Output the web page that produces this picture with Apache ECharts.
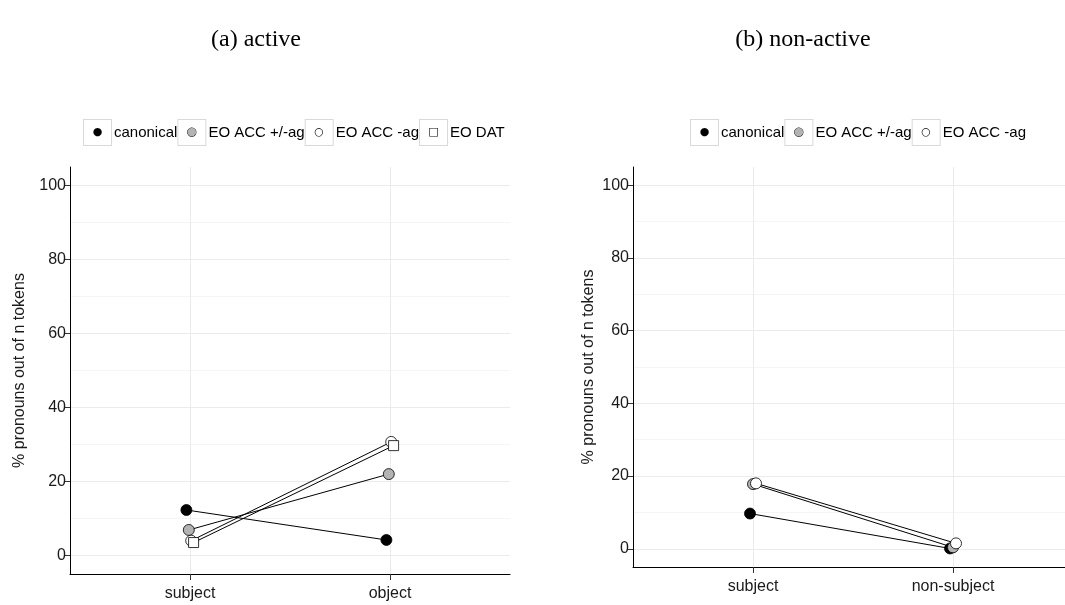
<!DOCTYPE html>
<html>
<head>
<meta charset="utf-8">
<script src="https://cdn.jsdelivr.net/npm/echarts@6/dist/echarts.min.js"></script>
<style>
  html, body { margin: 0; padding: 0; background: #fff; }
  #chart { width: 1065px; height: 605px; }
</style>
</head>
<body>
<div id="chart"></div>
<script>
// panel (a) active
const categoriesA = ['subject', 'object']
const canonicalA = [12.3, 4.2]
const accBothA = [6.9, 22.0]
const accNoAgA = [4.0, 30.7]
const datA = [3.5, 29.7]

// panel (b) non-active
const categoriesB = ['subject', 'non-subject']
const canonicalB = [9.7, 0.1]
const accBothB = [17.8, 0.4]
const accNoAgB = [18.0, 1.5]

const yTicks = [0, 20, 40, 60, 80, 100]
const yMinor = [10, 30, 50, 70, 90]

const seriesNames = ['canonical', 'EO ACC +/-ag', 'EO ACC -ag', 'EO DAT']
const boxKey = { 'canonical': 'b0', 'EO ACC +/-ag': 'b1', 'EO ACC -ag': 'b2', 'EO DAT': 'b3' }
const boxGlyph = { b0: '\u25CF', b1: '\u25CF', b2: '\u25CB', b3: '\u25A1' }

const markerStyle = {
  'canonical': { symbol: 'circle', color: '#000000' },
  'EO ACC +/-ag': { symbol: 'circle', color: '#b3b3b3' },
  'EO ACC -ag': { symbol: 'circle', color: '#ffffff' },
  'EO DAT': { symbol: 'rect', color: '#ffffff' }
}

const font = '"Liberation Sans", Arial, sans-serif'

function makeSeries(name, values, dodge, axisIdx, yIdx) {
  const m = markerStyle[name]
  return {
    name: name,
    type: 'line',
    xAxisIndex: axisIdx,
    yAxisIndex: yIdx,
    data: values.map((v, i) => [i + 1 + dodge, v]),
    symbol: m.symbol,
    symbolSize: m.symbol === 'rect' ? 10 : 11,
    showSymbol: true,
    lineStyle: { color: '#000', width: 1 },
    itemStyle: { color: m.color, borderColor: '#000', borderWidth: 0.8 },
    emphasis: { disabled: true },
    animation: false,
    z: 3
  }
}

function xAxisFor(gridIndex, cats, max) {
  return {
    type: 'value',
    gridIndex: gridIndex,
    min: 0.4,
    max: max,
    axisLine: { show: true, onZero: false, lineStyle: { color: '#000', width: 1 } },
    axisTick: { show: true, length: 6, customValues: [1, 2], lineStyle: { color: '#333' } },
    axisLabel: {
      customValues: [1, 2],
      formatter: v => cats[Math.round(v) - 1],
      color: '#1a1a1a', fontSize: 16, fontFamily: font, margin: 12
    },
    splitLine: { show: true, lineStyle: { color: '#ebebeb', width: 1 } }
  }
}

function yAxesFor(gridIndex, nameGap) {
  return [{
    type: 'value',
    gridIndex: gridIndex,
    min: -5,
    max: 105,
    name: '% pronouns out of n tokens',
    nameLocation: 'middle',
    nameRotate: 90,
    nameGap: nameGap,
    nameTextStyle: { color: '#1a1a1a', fontSize: 16, fontFamily: font },
    axisLine: { show: true, onZero: false, lineStyle: { color: '#000', width: 1 } },
    axisTick: { show: true, length: 6, customValues: yTicks, lineStyle: { color: '#333' } },
    axisLabel: { customValues: yTicks, color: '#1a1a1a', fontSize: 16, fontFamily: font, margin: 4 },
    splitLine: { show: true, lineStyle: { color: '#ebebeb', width: 1 } }
  }, {
    type: 'value',
    gridIndex: gridIndex,
    min: -5,
    max: 105,
    axisLine: { show: false },
    axisTick: { show: false, customValues: yMinor },
    axisLabel: { show: false, customValues: yMinor },
    splitLine: { show: true, lineStyle: { color: '#f5f5f5', width: 1 } }
  }]
}

const boxBase = { width: 27, height: 25, align: 'center', fontSize: 11, fontFamily: 'DejaVu Sans', borderColor: '#d9d9d9', borderWidth: 1, backgroundColor: '#fff' }
const rich = {
  t: { fontSize: 15, fontFamily: font, color: '#000', padding: [0, 0, 0, 3] },
  b0: Object.assign({}, boxBase, { color: '#000' }),
  b1: Object.assign({}, boxBase, { color: '#b3b3b3', textBorderColor: '#000', textBorderWidth: 0.8 }),
  b2: Object.assign({}, boxBase, { color: '#000' }),
  b3: Object.assign({}, boxBase, { color: '#000' })
}

function legendFor(names, left) {
  return {
    data: names,
    left: left,
    top: 114,
    orient: 'horizontal',
    icon: 'none',
    itemWidth: 0,
    itemHeight: 25,
    itemGap: -4,
    selectedMode: false,
    formatter: n => '{' + boxKey[n] + '|' + boxGlyph[boxKey[n]] + '}{t|' + n + '}',
    textStyle: { rich: rich }
  }
}

const dodgeA = [-0.018, -0.006, 0.006, 0.018]
const dodgeB = [-0.015, 0, 0.015]

const titleFont = { fontFamily: '"Liberation Serif", "Times New Roman", serif', fontSize: 24, fontWeight: 'normal', color: '#000' }

const option = {
  backgroundColor: '#fff',
  animation: false,
  title: [
    { text: '(a) active', left: 251, top: 23, textAlign: 'center', textStyle: titleFont },
    { text: '(b) non-active', left: 798, top: 23, textAlign: 'center', textStyle: titleFont }
  ],
  legend: [legendFor(seriesNames, 74), legendFor(seriesNames.slice(0, 3), 681)],
  grid: [
    { left: 70, top: 167, width: 440, height: 407 },
    { left: 633, top: 167, width: 432, height: 400 }
  ],
  xAxis: [xAxisFor(0, categoriesA, 2.6), xAxisFor(1, categoriesB, 2.56)],
  yAxis: [...yAxesFor(0, 42), ...yAxesFor(1, 36)],
  series: [
    makeSeries('canonical', canonicalA, dodgeA[0], 0, 0),
    makeSeries('EO ACC +/-ag', accBothA, dodgeA[1], 0, 0),
    makeSeries('EO ACC -ag', accNoAgA, dodgeA[2], 0, 0),
    makeSeries('EO DAT', datA, dodgeA[3], 0, 0),
    makeSeries('canonical', canonicalB, dodgeB[0], 1, 2),
    makeSeries('EO ACC +/-ag', accBothB, dodgeB[1], 1, 2),
    makeSeries('EO ACC -ag', accNoAgB, dodgeB[2], 1, 2)
  ]
}

const chart = echarts.init(document.getElementById('chart'), null, { renderer: 'canvas' })
chart.setOption(option)
</script>
</body>
</html>
